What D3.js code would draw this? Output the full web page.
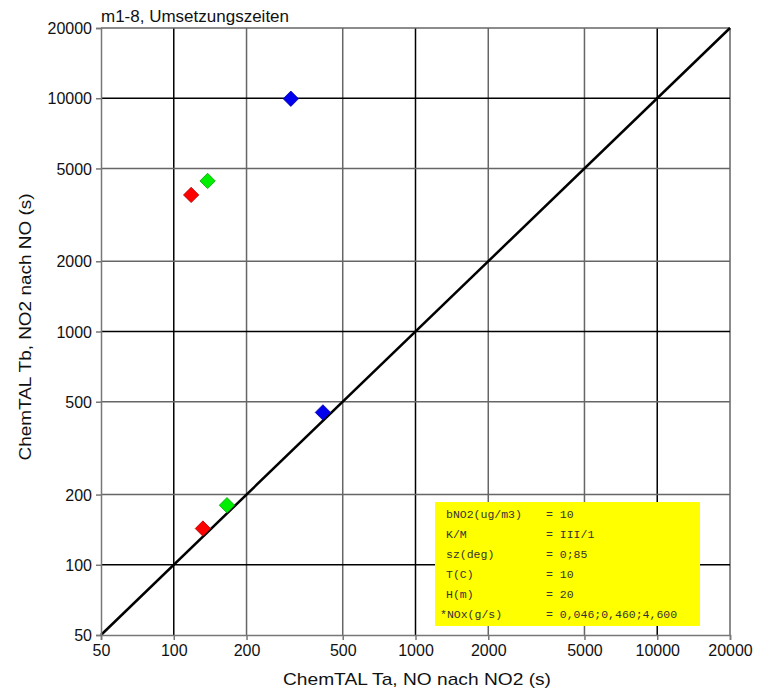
<!DOCTYPE html>
<html>
<head>
<meta charset="utf-8">
<script src="https://cdn.jsdelivr.net/npm/d3@7"></script>
<style>
  body { margin: 0; background: #fff; }
</style>
</head>
<body>
<svg id="chart"></svg>
<script>
var width = 760;
var height = 693;

// tick labels (same on both axes)
var tickValues = [50, 100, 200, 500, 1000, 2000, 5000, 10000, 20000];
var decades = [100, 1000, 10000];

// point data: Ta (x) vs Tb (y)
var seriesNames = ["red", "green", "blue"];
var taValues = [
    [118, 132],
    [138, 166],
    [305, 414]
];
var tbValues = [
    [3850, 143],
    [4420, 180],
    [9950, 450]
];
var seriesColors = ["#ff0000", "#00ee00", "#0000ee"];
var seriesStroke = ["#b00000", "#00a000", "#0000a0"];

// parameter box lines
var infoKeys = ["bNO2(ug/m3)", "K/M", "sz(deg)", "T(C)", "H(m)", "*NOx(g/s)"];
var infoValues = ["10", "III/1", "0;85", "10", "20", "0,046;0,460;4,600"];

var sans = "'Liberation Sans', Arial, sans-serif";
var mono = "'Liberation Mono', 'Courier New', monospace";

var svg = d3.select("#chart")
    .attr("width", width)
    .attr("height", height);

var x = d3.scaleLog().domain([50, 20000]).range([101, 730]);
var y = d3.scaleLog().domain([50, 20000]).range([635, 28]);

// gridlines
var grid = svg.append("g");
grid.selectAll(".vgrid")
    .data(tickValues.slice(1))
    .enter().append("line")
    .attr("x1", function (d) { return x(d); })
    .attr("x2", function (d) { return x(d); })
    .attr("y1", y(50))
    .attr("y2", y(20000))
    .attr("stroke", function (d) { return decades.indexOf(d) >= 0 ? "#000" : "#666"; })
    .attr("stroke-width", 1.5);
grid.selectAll(".hgrid")
    .data(tickValues.slice(1))
    .enter().append("line")
    .attr("x1", x(50))
    .attr("x2", x(20000))
    .attr("y1", function (d) { return y(d); })
    .attr("y2", function (d) { return y(d); })
    .attr("stroke", function (d) { return decades.indexOf(d) >= 0 ? "#000" : "#666"; })
    .attr("stroke-width", 1.5);

// parameter box
var box = svg.append("g");
box.append("rect")
    .attr("x", 435)
    .attr("y", 502)
    .attr("width", 265)
    .attr("height", 124)
    .attr("fill", "#ffff00");
infoKeys.forEach(function (k, i) {
    var yy = 518 + i * 20;
    box.append("text")
        .attr("x", k.charAt(0) === "*" ? 440 : 446)
        .attr("y", yy)
        .style("font-family", mono)
        .style("font-size", "11.5px")
        .attr("fill", "#333")
        .text(k);
    box.append("text")
        .attr("x", 546)
        .attr("y", yy)
        .style("font-family", mono)
        .style("font-size", "11.5px")
        .attr("fill", "#333")
        .attr("xml:space", "preserve")
        .text("= " + infoValues[i]);
});

// diagonal 1:1 line
svg.append("line")
    .attr("x1", x(50))
    .attr("y1", y(50))
    .attr("x2", x(20000))
    .attr("y2", y(20000))
    .attr("stroke", "#000")
    .attr("stroke-width", 2.5);

// axes
var xAxis = svg.append("g")
    .attr("transform", "translate(0," + y(50) + ")")
    .call(d3.axisBottom(x).tickValues(tickValues).tickFormat(d3.format("d")).tickSize(5).tickPadding(5));
var yAxis = svg.append("g")
    .attr("transform", "translate(" + x(50) + ",0)")
    .call(d3.axisLeft(y).tickValues(tickValues).tickFormat(d3.format("d")).tickSize(5).tickPadding(4));
[xAxis, yAxis].forEach(function (a) {
    a.select(".domain").attr("stroke", "#777").attr("stroke-width", 1.5);
    a.selectAll(".tick line").attr("stroke", "#777").attr("stroke-width", 1.5);
    a.selectAll(".tick text")
        .attr("fill", "#111")
        .style("font-family", sans)
        .style("font-size", "16px");
});
yAxis.selectAll(".tick text").attr("dy", "0.35em");

// points
var points = [];
seriesNames.forEach(function (s, i) {
    taValues[i].forEach(function (ta, j) {
        points.push({ s: i, ta: ta, tb: tbValues[i][j] });
    });
});
var diamond = d3.symbol().type(d3.symbolDiamond2).size(150);
svg.selectAll(".pt")
    .data(points)
    .enter().append("path")
    .attr("class", "pt")
    .attr("d", diamond)
    .attr("transform", function (d) { return "translate(" + x(d.ta) + "," + y(d.tb) + ")"; })
    .attr("fill", function (d) { return seriesColors[d.s]; })
    .attr("stroke", function (d) { return seriesStroke[d.s]; })
    .attr("stroke-width", 0.8);

// titles
svg.append("text")
    .attr("x", 101)
    .attr("y", 22)
    .style("font-family", sans)
    .style("font-size", "17px")
    .attr("fill", "#111")
    .text("m1-8, Umsetzungszeiten");

svg.append("text")
    .attr("x", 417)
    .attr("y", 685)
    .attr("text-anchor", "middle")
    .attr("textLength", 268)
    .attr("lengthAdjust", "spacingAndGlyphs")
    .style("font-family", sans)
    .style("font-size", "17px")
    .attr("fill", "#111")
    .text("ChemTAL Ta, NO nach NO2 (s)");

svg.append("text")
    .attr("transform", "translate(31,327) rotate(-90)")
    .attr("text-anchor", "middle")
    .attr("textLength", 267)
    .attr("lengthAdjust", "spacingAndGlyphs")
    .style("font-family", sans)
    .style("font-size", "17px")
    .attr("fill", "#111")
    .text("ChemTAL Tb, NO2 nach NO (s)");
</script>
</body>
</html>
